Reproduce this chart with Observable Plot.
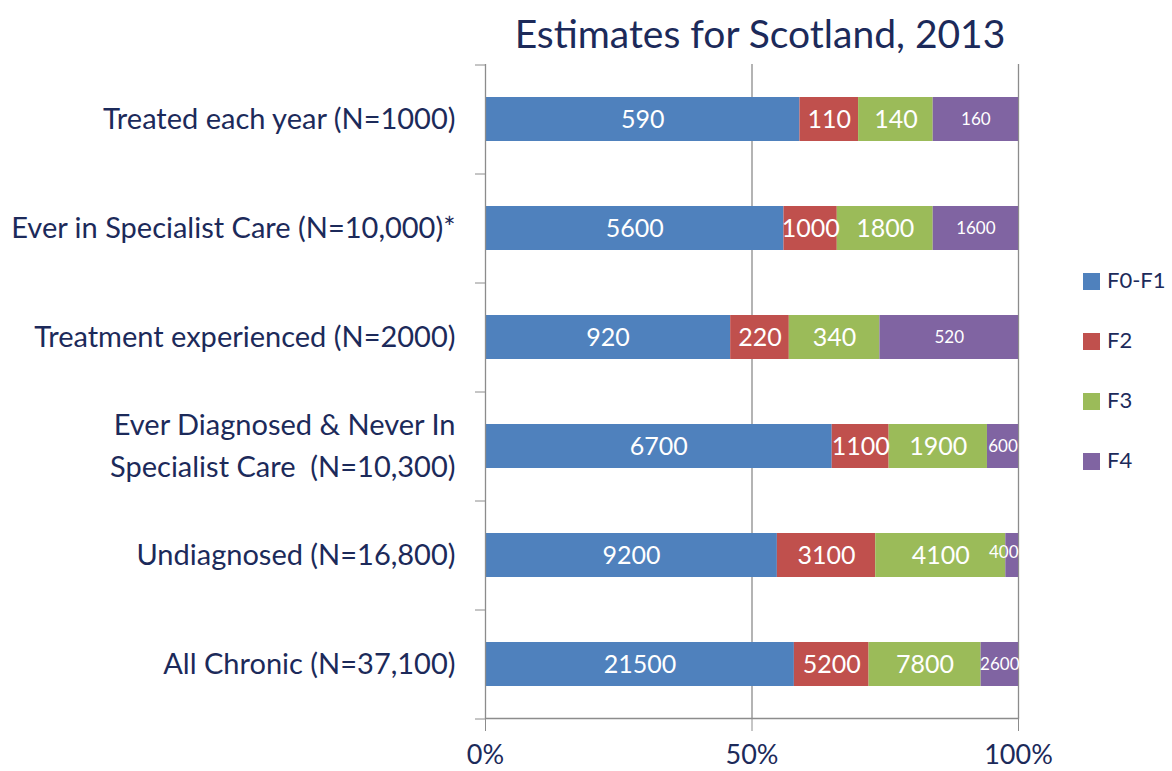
<!DOCTYPE html>
<html><head><meta charset="utf-8">
<script src="https://cdn.jsdelivr.net/npm/d3@7"></script>
<script src="https://cdn.jsdelivr.net/npm/@observablehq/plot@0.6"></script>
<style>
body{margin:0;background:#fff;font-family:Lato,"Open Sans",sans-serif;}
#wrap{position:relative;width:1172px;height:771px;color:#1c2a5a;}
#title{position:absolute;left:460px;top:10px;width:600px;text-align:center;font-size:39px;line-height:46px;}
#legend{position:absolute;left:1083px;top:0;}
.item{position:absolute;left:0;white-space:nowrap;font-size:22px;line-height:26px;}
.sw{display:inline-block;width:17px;height:17px;vertical-align:-2px;margin-right:7px;}
</style>
</head><body>
<div id="wrap">
<div id="title">Estimates for Scotland, 2013</div>
<div id="chart"></div>
<div id="legend"></div>
</div>
<script>
const categories = [
  "Treated each year (N=1000)",
  "Ever in Specialist Care (N=10,000)*",
  "Treatment experienced (N=2000)",
  "Ever Diagnosed & Never In\nSpecialist Care  (N=10,300)",
  "Undiagnosed (N=16,800)",
  "All Chronic (N=37,100)"
];
const stages = ["F0-F1", "F2", "F3", "F4"];
const colors = ["#4f81bd", "#c0504d", "#9bbb59", "#8064a2"];
const f0f1 = [590, 5600, 920, 6700, 9200, 21500];
const f2 = [110, 1000, 220, 1100, 3100, 5200];
const f3 = [140, 1800, 340, 1900, 4100, 7800];
const f4 = [160, 1600, 520, 600, 400, 2600];
const xTicks = [0, 0.5, 1];

const series = [f0f1, f2, f3, f4];
const data = [];
categories.forEach((c, i) => {
  const total = d3.sum(series, s => s[i]);
  stages.forEach((s, j) => data.push({category: c, stage: s, value: series[j][i], share: series[j][i] / total}));
});
const narrow = d => d.share < 0.04;

const W = 1172, H = 771, mT = 64, mB = 53, mL = 485, mR = 154;
const halfStep = (H - mT - mB) / categories.length / 2;
const navy = "#1c2a5a", gray = "#8c8c8c";

const stackOpts = {x: "value", y: "category", z: "stage", offset: "normalize", order: stages};
const labelSize = d => d.stage === "F4" ? 17 : 25;

const chart = Plot.plot({
  width: W, height: H,
  marginTop: mT, marginBottom: mB, marginLeft: mL, marginRight: mR,
  style: {fontFamily: "Lato, 'Open Sans', sans-serif", color: navy, background: "transparent"},
  x: {domain: [0, 1], label: null},
  y: {domain: categories, paddingInner: 0.6, paddingOuter: 0.3, label: null},
  color: {domain: stages, range: colors},
  marks: [
    Plot.ruleX([0.5, 1], {stroke: gray, strokeWidth: 1.3}),
    Plot.barX(data, Plot.stackX({...stackOpts, fill: "stage"})),
    Plot.text(data, Plot.stackX({...stackOpts, text: d => narrow(d) ? "" : String(d.value), fill: "white", fontSize: labelSize})),
    Plot.text(data, Plot.stackX2({...stackOpts, text: d => narrow(d) ? String(d.value) : "", fill: "white", fontSize: labelSize, textAnchor: "end", dy: -3})),
    Plot.ruleX([0], {stroke: gray, strokeWidth: 1.3}),
    Plot.frame({anchor: "bottom", stroke: gray, strokeWidth: 1.3}),
    Plot.axisY({tickSize: 0, tickPadding: 30, fontSize: 29, lineHeight: 1.45, fill: navy, label: null, dy: -4}),
    Plot.axisY({tickSize: 10, tickFormat: () => "", dy: -halfStep, stroke: gray, label: null}),
    Plot.axisY(categories.slice(-1), {tickSize: 10, tickFormat: () => "", dy: halfStep, stroke: gray, label: null}),
    Plot.axisX({ticks: xTicks, tickFormat: d3.format(".0%"), tickSize: 13, tickPadding: 13, fontSize: 27, stroke: gray, fill: navy, label: null})
  ]
});
document.getElementById("chart").appendChild(chart);

const legend = document.getElementById("legend");
const legendTop = [267, 327, 387, 447];
stages.forEach((s, i) => {
  const el = document.createElement("div");
  el.className = "item";
  el.style.top = legendTop[i] + "px";
  el.innerHTML = `<span class="sw" style="background:${colors[i]}"></span>${s}`;
  legend.appendChild(el);
});
</script>
</body></html>
